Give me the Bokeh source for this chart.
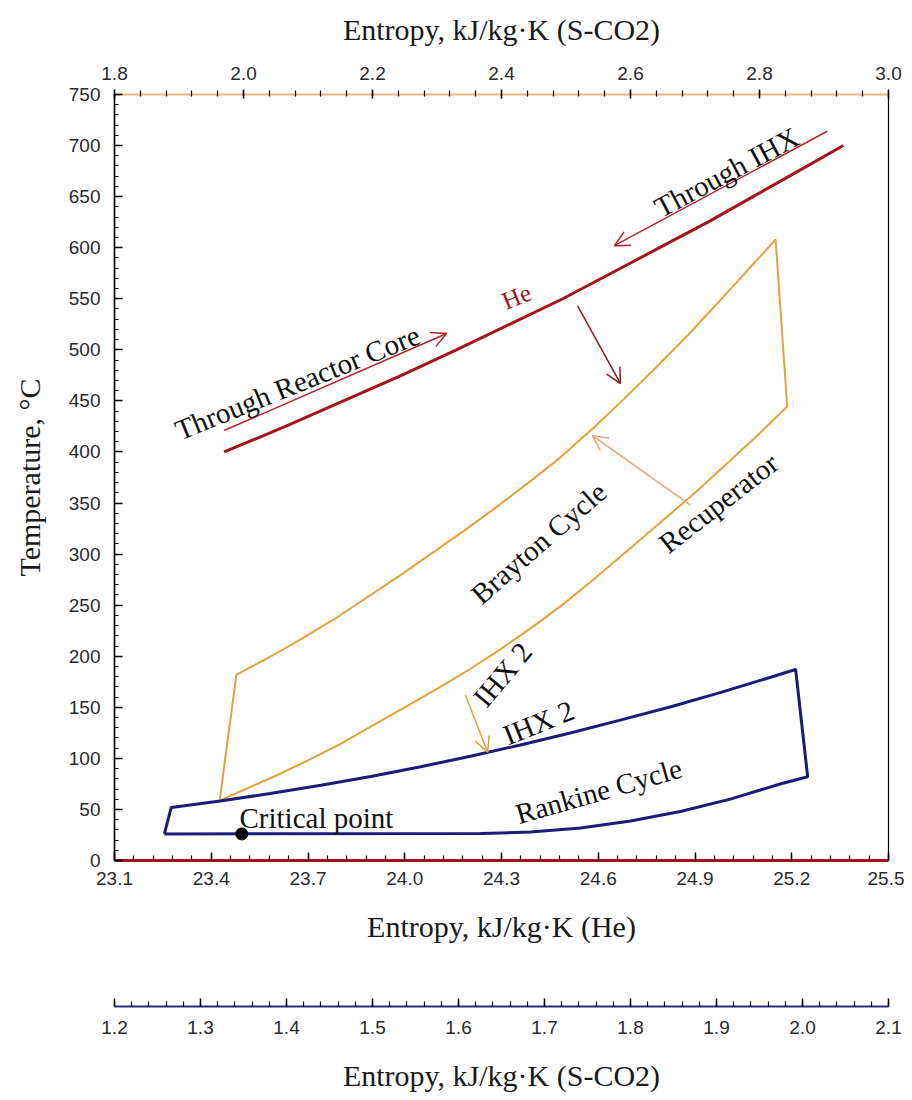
import numpy as np
from bokeh.plotting import figure
from bokeh.models import (Range1d, LinearAxis, FixedTicker, NumeralTickFormatter,
                          Arrow, OpenHead, Label)
from bokeh.layouts import column
from bokeh.embed import file_html
from bokeh.resources import INLINE

# ---------------- data ----------------
# Helium line (bottom axis: entropy He, kJ/kg.K)
he_s = [23.44, 23.63, 23.81, 23.99, 24.16, 24.325, 24.49, 24.64, 24.79, 24.94, 25.08, 25.22, 25.36]
he_t = [400, 425, 450, 475, 500, 525, 550, 575, 600, 625, 650, 675, 700]

# Brayton cycle, S-CO2 (top axis): upper branch, then lower branch back
bray_s = [1.963, 1.989, 2.04, 2.09, 2.14, 2.19, 2.24, 2.29, 2.34, 2.39, 2.44, 2.49,
          2.54, 2.59, 2.64, 2.69, 2.75, 2.825,
          2.843, 2.8, 2.75, 2.7, 2.65, 2.6, 2.55, 2.5, 2.45, 2.4, 2.35, 2.3,
          2.25, 2.2, 2.15, 2.1, 2.05, 2.0, 1.963]
bray_t = [58.7, 182, 199, 217, 236, 257, 278, 300, 322, 345, 369, 394,
          422, 452, 483, 515, 556, 608,
          444.5, 418, 389, 360, 333, 306, 279, 253, 229.5, 207.5, 187, 168,
          150, 132, 114, 98, 83, 69, 58.7]

# Rankine cycle, S-CO2 (lower separate axis)
rank_s = [1.258, 1.266, 1.323, 1.381, 1.440, 1.498, 1.556, 1.614, 1.672, 1.730,
          1.788, 1.847, 1.905, 1.963, 1.992,
          2.006, 1.974, 1.916, 1.858, 1.800, 1.742, 1.684, 1.626, 1.258]
rank_t = [26, 52, 58.3, 65.6, 73.6, 82.3, 91.8, 102.1, 113.1, 124.8,
          137.4, 150.6, 164.6, 179.4, 187,
          82, 74.9, 60.1, 48, 38.6, 31.8, 27.8, 26.4, 26]

crit_s = [1.348]
crit_t = [26]

# axis ticks
t_ticks = list(range(0, 751, 50))
he_ticks = [23.1, 23.4, 23.7, 24.0, 24.3, 24.6, 24.9, 25.2, 25.5]
top_ticks = [1.8, 2.0, 2.2, 2.4, 2.6, 2.8, 3.0]
rank_ticks = [1.2, 1.3, 1.4, 1.5, 1.6, 1.7, 1.8, 1.9, 2.0, 2.1]

# ---------------- styling ----------------
SERIF = "Liberation Serif"
SANS = "Liberation Sans"
TICK_FS = "19px"
LABEL_FS = "30px"
ANN_FS = "29px"

FW, FH = 774, 766
BL, BR = 114, 16

p = figure(frame_width=FW, frame_height=FH,
           x_range=Range1d(23.1, 25.5), y_range=Range1d(0, 750),
           output_backend="svg", toolbar_location=None,
           x_axis_location=None, y_axis_location=None,
           min_border_left=BL, min_border_right=BR,
           min_border_top=94, min_border_bottom=94,
           background_fill_color="white", border_fill_color="white",
           outline_line_color="black", outline_line_width=1.2)
p.grid.visible = False
p.extra_x_ranges = {"top": Range1d(1.8, 3.0), "rank": Range1d(1.2, 2.1)}


def style_axis(ax, line_color, line_width, tick_in, tick_out, minor_in, minor_out,
               lab_standoff, ax_standoff):
    ax.axis_line_color = line_color
    ax.axis_line_width = line_width
    ax.major_tick_line_color = "black"
    ax.minor_tick_line_color = "black"
    ax.major_tick_line_width = 1.5
    ax.minor_tick_line_width = 1.2
    ax.major_tick_in = tick_in
    ax.major_tick_out = tick_out
    ax.minor_tick_in = minor_in
    ax.minor_tick_out = minor_out
    ax.major_label_text_font = SANS
    ax.major_label_text_font_size = TICK_FS
    ax.major_label_text_color = "#2a2a2a"
    ax.major_label_standoff = lab_standoff
    ax.axis_label_text_font = SERIF
    ax.axis_label_text_font_size = LABEL_FS
    ax.axis_label_text_font_style = "normal"
    ax.axis_label_text_color = "#1a1a1a"
    ax.axis_label_standoff = ax_standoff


def minor_list(a, b, step):
    n = int(round((b - a) / step))
    return [round(a + i * step, 4) for i in range(n + 1)]


# left temperature axis
yax = LinearAxis(ticker=FixedTicker(ticks=t_ticks, minor_ticks=minor_list(0, 750, 10)),
                 axis_label="Temperature, °C")
style_axis(yax, "black", 1.5, 8, 0, 4, 0, 14, 20)
p.add_layout(yax, "left")

# bottom He axis
heax = LinearAxis(ticker=FixedTicker(ticks=he_ticks, minor_ticks=minor_list(23.1, 25.5, 0.06)),
                  formatter=NumeralTickFormatter(format="0.0"),
                  axis_label="Entropy, kJ/kg·K (He)")
style_axis(heax, "#a3141c", 3, 8, 0, 5, 0, 11, 22)
p.add_layout(heax, "below")

# top S-CO2 axis
topax = LinearAxis(x_range_name="top",
                   ticker=FixedTicker(ticks=top_ticks, minor_ticks=minor_list(1.8, 3.0, 0.04)),
                   formatter=NumeralTickFormatter(format="0.0"),
                   axis_label="Entropy, kJ/kg·K (S-CO2)")
style_axis(topax, "#eab77e", 2, 4, 5, 2, 4, 10, 18)
p.add_layout(topax, "above")

# ---------------- curves ----------------
p.line(he_s, he_t, line_color="#a3141c", line_width=3)
p.line(bray_s, bray_t, x_range_name="top", line_color="#e2a23c", line_width=2)
p.line(rank_s, rank_t, x_range_name="rank", line_color="#1c1c78", line_width=3)
p.scatter(crit_s, crit_t, x_range_name="rank", size=12, color="black")

# ---------------- arrows ----------------
def arrow(x0, y0, x1, y1, color, lw=1.5, size=15):
    p.add_layout(Arrow(end=OpenHead(size=size, line_color=color, line_width=lw),
                       x_start=x0, y_start=y0, x_end=x1, y_end=y1,
                       line_color=color, line_width=lw))

arrow(23.44, 421, 24.13, 516, "#b3222a")          # through reactor core
arrow(25.31, 714, 24.65, 602, "#b3222a")          # through IHX
arrow(24.536, 543, 24.669, 467, "#8b1a22")        # He -> Brayton
arrow(24.886, 348, 24.582, 416, "#e9a47a")        # recuperator
arrow(24.188, 162, 24.257, 106, "#d9a535")        # IHX 2

# ---------------- labels ----------------
def label(x, y, text, angle, color="#111111", size=ANN_FS):
    p.add_layout(Label(x=x, y=y, text=text, angle=angle, angle_units="deg",
                       text_font=SERIF, text_font_size=size, text_color=color,
                       text_align="center", text_baseline="middle"))

label(23.667, 468, "Through Reactor Core", 22)
label(24.998, 674, "Through IHX", 28)
label(24.347, 552, "He", 22, color="#a3141c", size="25px")
label(24.415, 311, "Brayton Cycle", 41)
label(24.973, 350, "Recuperator", 38)
label(24.303, 182, "IHX 2", 50)
label(24.415, 135, "IHX 2", 22)
label(24.601, 68, "Rankine Cycle", 16)
label(23.726, 42, "Critical point", 0)

# ---------------- separate lower S-CO2 axis ----------------
p2 = figure(frame_width=FW, frame_height=2,
            x_range=p.extra_x_ranges["rank"], y_range=Range1d(0, 1),
            output_backend="svg", toolbar_location=None,
            x_axis_location=None, y_axis_location=None,
            min_border_left=BL, min_border_right=BR,
            min_border_top=50, min_border_bottom=94,
            outline_line_color=None,
            background_fill_color="white", border_fill_color="white")
p2.grid.visible = False
rax = LinearAxis(ticker=FixedTicker(ticks=rank_ticks, minor_ticks=minor_list(1.2, 2.1, 0.02)),
                 formatter=NumeralTickFormatter(format="0.0"),
                 axis_label="Entropy, kJ/kg·K (S-CO2)")
style_axis(rax, "#2a2a80", 2, 8, 0, 5, 0, 14, 22)
p2.add_layout(rax, "below")

layout = column(p, p2, spacing=0)
open("out.html", "w").write(file_html(layout, INLINE))
